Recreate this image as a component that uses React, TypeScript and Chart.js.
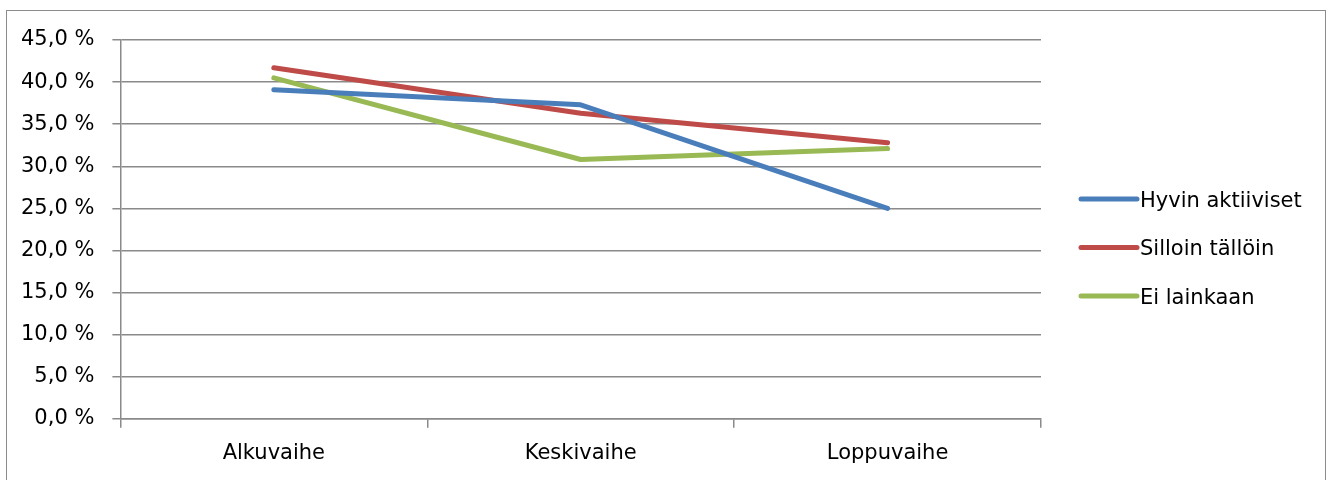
import React, { useEffect, useRef } from "react";
import { Chart, registerables } from "chart.js";

Chart.register(...registerables);

const categories = ["Alkuvaihe", "Keskivaihe", "Loppuvaihe"];
const seriesNames = ["Hyvin aktiiviset", "Silloin tällöin", "Ei lainkaan"];
const hyvinAktiiviset = [39.1, 37.3, 25.0];
const silloinTalloin = [41.7, 36.3, 32.8];
const eiLainkaan = [40.5, 30.8, 32.1];
const seriesColors = ["#4A7EBB", "#BE4B48", "#98B954"];
const yMin = 0;
const yMax = 45;
const yStep = 5;

const FONT = "'DejaVu Sans', sans-serif";
const GRID = "#8a8a8a";

const sideLegend = {
  id: "sideLegend",
  afterDraw(chart: any) {
    const { ctx, chartArea } = chart;
    const x0 = chartArea.right + 40;
    const lineLen = 56;
    const firstY = chartArea.top + 159;
    const gap = 48.5;
    ctx.save();
    ctx.font = `21px ${FONT}`;
    ctx.textBaseline = "alphabetic";
    ctx.textAlign = "left";
    chart.data.datasets.forEach((ds: any, i: number) => {
      const y = firstY + i * gap;
      ctx.beginPath();
      ctx.strokeStyle = ds.borderColor;
      ctx.lineWidth = 5;
      ctx.lineCap = "round";
      ctx.moveTo(x0, y);
      ctx.lineTo(x0 + lineLen, y);
      ctx.stroke();
      ctx.fillStyle = "#000";
      ctx.fillText(ds.label, x0 + lineLen + 3, y + 7.7);
    });
    ctx.restore();
  },
};

export default function App() {
  const ref = useRef<HTMLCanvasElement>(null);

  useEffect(() => {
    document.body.style.overflow = "hidden";
    const values = [hyvinAktiiviset, silloinTalloin, eiLainkaan];
    const chart = new Chart(ref.current as HTMLCanvasElement, {
      type: "line",
      data: {
        labels: categories,
        datasets: seriesNames.map((name, i) => ({
          label: name,
          data: values[i],
          borderColor: seriesColors[i],
          backgroundColor: seriesColors[i],
          borderWidth: 5,
          borderJoinStyle: "round" as const,
          borderCapStyle: "round" as const,
          pointRadius: 0,
          tension: 0,
        })),
      },
      options: {
        responsive: false,
        animation: false,
        devicePixelRatio: 1,
        layout: { padding: { left: 3, right: 294, top: 40, bottom: 1 } },
        plugins: {
          legend: { display: false },
          tooltip: { enabled: false },
        },
        scales: {
          x: {
            offset: true,
            grid: {
              offset: true,
              drawOnChartArea: false,
              drawTicks: true,
              tickLength: 9,
              color: GRID,
              lineWidth: 1.5,
            },
            border: { display: true, color: GRID, width: 1.5 },
            ticks: {
              color: "#000",
              padding: 13,
              font: { family: FONT, size: 21 },
              maxRotation: 0,
            },
          },
          y: {
            min: yMin,
            max: yMax,
            grid: {
              color: GRID,
              lineWidth: 1.5,
              tickLength: 8,
              drawTicks: true,
            },
            border: { display: true, color: GRID, width: 1.5 },
            ticks: {
              stepSize: yStep,
              color: "#000",
              padding: 18,
              font: { family: FONT, size: 21 },
              callback: (v: any) => Number(v).toFixed(1).replace(".", ",") + " %",
            },
          },
        },
      },
      plugins: [sideLegend],
    });
    return () => chart.destroy();
  }, []);

  return (
    <div>
      <div
        style={{
          position: "absolute",
          left: 6,
          top: 10,
          width: 1318,
          height: 475,
          border: "1px solid #8c8c8c",
          borderBottom: "none",
        }}
      />
      <canvas
        ref={ref}
        width={1335}
        height={480}
        style={{ position: "absolute", left: 0, top: 0, width: 1335, height: 480 }}
      />
    </div>
  );
}
